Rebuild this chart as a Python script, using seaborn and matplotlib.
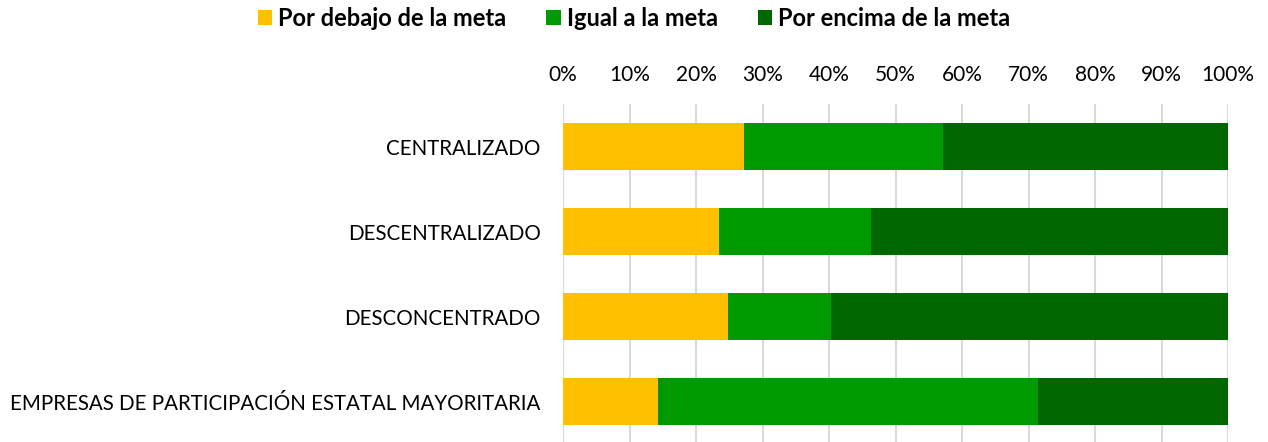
import numpy as np
import pandas as pd
import seaborn as sns
from matplotlib import pyplot as plt
from matplotlib.patches import Patch
from matplotlib.ticker import PercentFormatter

categories = [
    "CENTRALIZADO",
    "DESCENTRALIZADO",
    "DESCONCENTRADO",
    "EMPRESAS DE PARTICIPACIÓN ESTATAL MAYORITARIA",
]
below_goal = [27.2, 23.5, 24.8, 14.3]
at_goal = [30.0, 22.8, 15.5, 57.1]
above_goal = [42.8, 53.7, 59.7, 28.6]

series_names = ["Por debajo de la meta", "Igual a la meta", "Por encima de la meta"]
colors = ["#FFC000", "#009900", "#006600"]

df = pd.DataFrame(
    {
        "cat": categories,
        "below": below_goal,
        "at": at_goal,
        "above": above_goal,
    }
)
# cumulative ends, drawn back to front so seaborn gives a stacked look
df["c1"] = df["below"]
df["c2"] = df["below"] + df["at"]
df["c3"] = df["below"] + df["at"] + df["above"]

sns.set_theme(style="white")
plt.rcParams["font.family"] = ["Lato", "DejaVu Sans"]

fig = plt.figure(figsize=(12.68, 4.42), dpi=100)
ax = fig.add_axes([563 / 1268, 0, 665 / 1268, 338 / 442])

for col, color in zip(["c3", "c2", "c1"], colors[::-1]):
    sns.barplot(
        data=df, x=col, y="cat", orient="h", color=color,
        width=0.55, saturation=1, ax=ax, edgecolor="none",
    )

ax.set_xlim(0, 100)
ax.set_ylim(3.476, -0.5)
ax.set_xticks(np.arange(0, 101, 10))
ax.xaxis.set_major_formatter(PercentFormatter(decimals=0))
ax.xaxis.tick_top()
ax.set_xlabel("")
ax.set_ylabel("")
ax.grid(axis="x", color="#d9d9d9", linewidth=1.5)
ax.set_axisbelow(True)
for s in ax.spines.values():
    s.set_visible(False)
ax.tick_params(axis="x", length=0, pad=14, labelsize=15, labelcolor="black")
ax.tick_params(axis="y", length=0, pad=16, labelsize=14.8, labelcolor="black")

handles = [Patch(facecolor=c, edgecolor="none") for c in colors]
leg = fig.legend(
    handles, series_names, loc="center", bbox_to_anchor=(0.5, 1 - 18 / 442),
    ncol=3, frameon=False, handlelength=0.6, handleheight=0.6,
    handletextpad=0.25, columnspacing=1.7, prop={"weight": "bold", "size": 17},
)
for t in leg.get_texts():
    t.set_color("black")

fig.savefig("out.png", dpi=100)
